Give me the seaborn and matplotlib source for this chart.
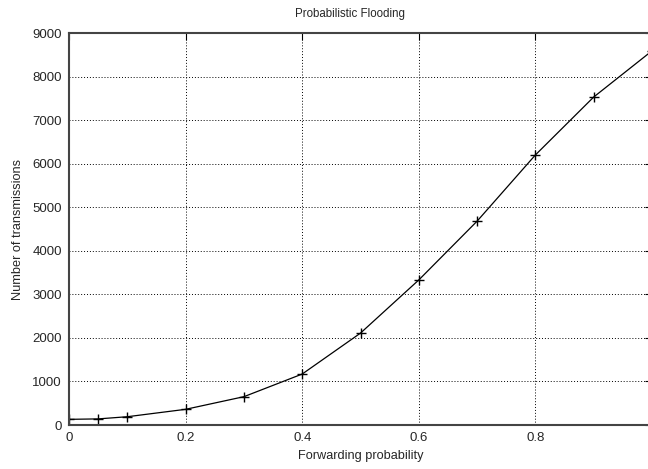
import matplotlib
matplotlib.use("Agg")
import matplotlib.pyplot as plt
import seaborn as sns
import pandas as pd

prob = [0.0, 0.05, 0.1, 0.2, 0.3, 0.4, 0.5, 0.6, 0.7, 0.8, 0.9, 1.0]
transmissions = [130, 140, 190, 360, 650, 1170, 2110, 3330, 4680, 6200, 7530, 8590]
xticks = [0, 0.2, 0.4, 0.6, 0.8]
yticks = [0, 1000, 2000, 3000, 4000, 5000, 6000, 7000, 8000, 9000]

sns.set_theme(style="white")
plt.rcParams['font.family'] = ['Liberation Sans', 'DejaVu Sans']

df = pd.DataFrame({"p": prob, "n": transmissions})

fig = plt.figure(figsize=(6.48, 4.69), dpi=100)
ax = fig.add_axes([69/648, (469-425)/469, 583/648, 392/469])

sns.lineplot(data=df, x="p", y="n", ax=ax, color="black", linewidth=0.9,
             marker="+", markersize=7, markeredgewidth=1.0, markeredgecolor="black")

ax.set_xlim(0, 1.0)
ax.set_ylim(0, 9000)
ax.set_xticks(xticks)
ax.set_xticklabels(["0", "0.2", "0.4", "0.6", "0.8"])
ax.set_yticks(yticks)
ax.set_yticklabels([str(v) for v in yticks])
ax.grid(True, color="black", linestyle=(0, (1, 2)), linewidth=0.7)
ax.tick_params(direction="in", length=5, width=0.8, labelsize=9.5, color="black",
               top=True, right=True, pad=5)
for s in ax.spines.values():
    s.set_color("#444444")
    s.set_linewidth(1.5)
ax.set_xlabel("Forwarding probability", fontsize=9.2, labelpad=4)
ax.set_ylabel("Number of transmissions", fontsize=9.2, labelpad=6)
fig.text(350/648, 1 - 14/469, "Probabilistic Flooding", ha="center", va="center", fontsize=8.3)

fig.savefig("out.png", dpi=100)
